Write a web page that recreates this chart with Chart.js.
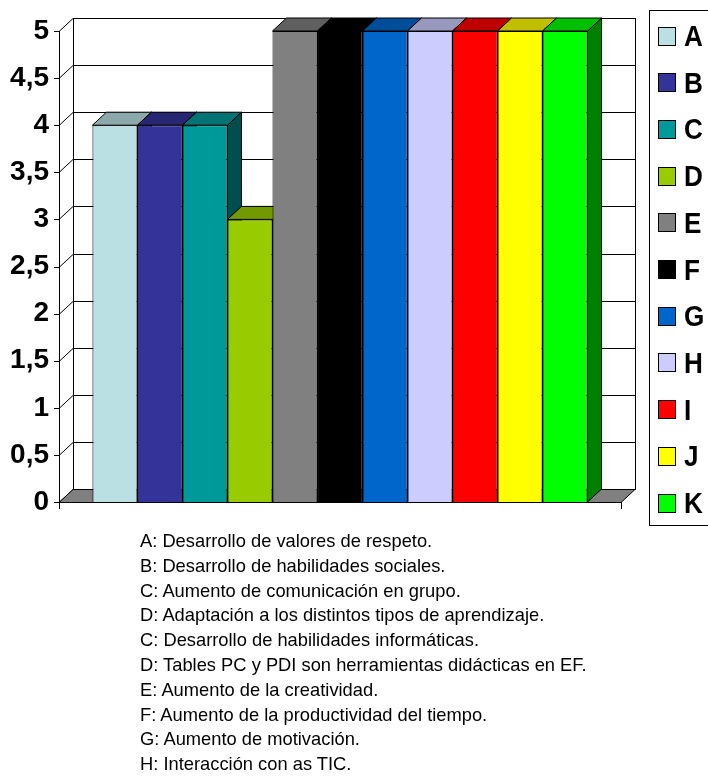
<!DOCTYPE html>
<html>
<head>
<meta charset="utf-8">
<script src="https://cdn.jsdelivr.net/npm/chart.js@4/dist/chart.umd.min.js"></script>
<style>
  html, body { margin: 0; padding: 0; background: #fff; }
  body { width: 708px; height: 783px; position: relative; overflow: hidden;
         font-family: "Liberation Sans", Arial, sans-serif; }
  #chart { position: absolute; left: 0; top: 0; }
  #legend { position: absolute; left: 649px; top: 10px; width: 80px; height: 516px;
            border: 1px solid #000; box-sizing: border-box; }
  .leg-item { position: absolute; left: 8px; height: 24px; display: flex; align-items: center; }
  .leg-box { width: 18px; height: 19px; border: 1px solid #000; box-sizing: border-box; }
  .leg-txt { margin-left: 8px; font-weight: bold; font-size: 29px; line-height: 24px; color: #000;
             display: inline-block; transform: scaleX(0.9); transform-origin: left center; }
  #notes { position: absolute; left: 140px; top: 529px; font-size: 19px; line-height: 24.8px; color: #000;
           transform: scaleX(0.964); transform-origin: left top; white-space: nowrap; }
</style>
</head>
<body>
<canvas id="chart" width="708" height="783"></canvas>
<div id="legend"></div>
<div id="notes"></div>
<script>
'use strict';

// ── Data ──
const SERIES = ['A', 'B', 'C', 'D', 'E', 'F', 'G', 'H', 'I', 'J', 'K'];
const VALUES = [4, 4, 4, 3, 5, 5, 5, 5, 5, 5, 5];
const COLORS = ['#BBE0E3', '#333399', '#009999', '#99CC00', '#808080', '#000000',
                '#0066CC', '#CCCCFF', '#FF0000', '#FFFF00', '#00FF00'];
const Y_TICKS = ['0', '0,5', '1', '1,5', '2', '2,5', '3', '3,5', '4', '4,5', '5'];
const NOTES = [
  'A: Desarrollo de valores de respeto.',
  'B: Desarrollo de habilidades sociales.',
  'C: Aumento de comunicación en grupo.',
  'D: Adaptación a los distintos tipos de aprendizaje.',
  'C: Desarrollo de habilidades informáticas.',
  'D: Tables PC y PDI son herramientas didácticas en EF.',
  'E: Aumento de la creatividad.',
  'F: Aumento de la productividad del tiempo.',
  'G: Aumento de motivación.',
  'H: Interacción con as TIC.',
];

// ── 3D look ──
const DX = 14, DY = 13;

function shade(hex, k) {
  const n = parseInt(hex.slice(1), 16);
  const r = Math.round(((n >> 16) & 255) * k);
  const g = Math.round(((n >> 8) & 255) * k);
  const b = Math.round((n & 255) * k);
  return `rgb(${r},${g},${b})`;
}

function poly(ctx, pts, fill) {
  ctx.beginPath();
  ctx.moveTo(pts[0][0], pts[0][1]);
  for (let i = 1; i < pts.length; i++) ctx.lineTo(pts[i][0], pts[i][1]);
  ctx.closePath();
  if (fill) { ctx.fillStyle = fill; ctx.fill(); }
  ctx.stroke();
}

const box3d = {
  id: 'box3d',
  beforeDatasetsDraw(chart) {
    const ctx = chart.ctx;
    const { left: L, right: R, bottom: B, top: T } = chart.chartArea;
    const y = chart.scales.y;
    ctx.save();
    ctx.lineWidth = 1;
    ctx.strokeStyle = '#000';

    // back wall
    ctx.fillStyle = '#fff';
    ctx.fillRect(L + DX, T - DY, R - L, B - T);
    ctx.strokeRect(L + DX + 0.5, T - DY + 0.5, R - L, B - T);

    // gridlines on the wall + side wall diagonals + tick marks
    y.ticks.forEach(t => {
      const py = Math.round(y.getPixelForValue(t.value)) + 0.5;
      ctx.beginPath();
      ctx.moveTo(L + DX, py - DY); ctx.lineTo(R + DX, py - DY);
      ctx.moveTo(L, py); ctx.lineTo(L + DX, py - DY);
      ctx.moveTo(L - 5, py); ctx.lineTo(L, py);
      ctx.stroke();
    });

    // floor
    poly(ctx, [[L, B + 0.5], [L + DX, B - DY + 0.5], [R + DX, B - DY + 0.5], [R, B + 0.5]], '#808080');

    // front axis lines
    ctx.beginPath();
    ctx.moveTo(L + 0.5, T); ctx.lineTo(L + 0.5, B + 7);
    ctx.moveTo(L, B + 0.5); ctx.lineTo(R, B + 0.5);
    ctx.moveTo(R + 0.5, B); ctx.lineTo(R + 0.5, B + 7);
    ctx.stroke();

    // bar sides first, then tops; front faces are drawn by Chart.js afterwards
    const bars = chart.data.datasets.map((ds, i) => chart.getDatasetMeta(i).data[0]);
    bars.forEach((el, i) => {
      const r = el.x + el.width / 2;
      poly(ctx, [[r, el.y], [r + DX, el.y - DY], [r + DX, el.base - DY], [r, el.base]],
           shade(COLORS[i], 0.5));
    });
    bars.forEach((el, i) => {
      const l = el.x - el.width / 2, r = el.x + el.width / 2;
      poly(ctx, [[l, el.y], [l + DX, el.y - DY], [r + DX, el.y - DY], [r, el.y]],
           shade(COLORS[i], 0.75));
    });
    ctx.restore();
  },
};

// ── Chart ──
function initChart() {
  const ctx = document.getElementById('chart').getContext('2d');
  new Chart(ctx, {
    type: 'bar',
    data: {
      labels: [''],
      datasets: SERIES.map((s, i) => ({
        label: s,
        data: [VALUES[i]],
        backgroundColor: COLORS[i],
        borderColor: '#000',
        borderWidth: 1,
        categoryPercentage: 0.881,
        barPercentage: 1,
      })),
    },
    options: {
      responsive: false,
      animation: false,
      layout: { padding: { left: 0, top: 31, right: 87, bottom: 281 } },
      plugins: { legend: { display: false }, tooltip: { enabled: false } },
      scales: {
        x: { display: false },
        y: {
          min: 0,
          max: 5,
          grid: { display: false },
          border: { display: false },
          afterFit: s => { s.width = 59; },
          ticks: {
            stepSize: 0.5,
            autoSkip: false,
            padding: 2,
            color: '#000',
            font: { family: '"Liberation Sans", Arial, sans-serif', size: 28, weight: 'bold' },
            callback: (v, i) => Y_TICKS[i],
          },
        },
      },
    },
    plugins: [box3d],
  });
}

// ── Legend + notes ──
function buildLegend() {
  const el = document.getElementById('legend');
  SERIES.forEach((s, i) => {
    const item = document.createElement('div');
    item.className = 'leg-item';
    item.style.top = (13 + i * 46.7) + 'px';
    item.innerHTML = `<div class="leg-box" style="background:${COLORS[i]}"></div><span class="leg-txt">${s}</span>`;
    el.appendChild(item);
  });
  document.getElementById('notes').innerHTML = NOTES.map(n => `<div>${n}</div>`).join('');
}

document.addEventListener('DOMContentLoaded', () => {
  buildLegend();
  initChart();
});
</script>
</body>
</html>
